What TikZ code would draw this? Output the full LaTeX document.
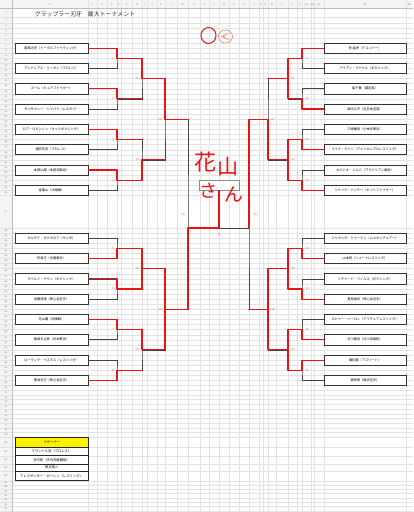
\documentclass[tikz,border=0pt]{standalone}
\usepackage{fontspec}
\setmainfont{Noto Sans CJK JP}
\newfontfamily\latf{Liberation Sans}
\definecolor{gridc}{HTML}{E2E3E3}
\definecolor{hdrc}{HTML}{F3F4F5}
\definecolor{redl}{HTML}{EE1111}
\definecolor{redt}{HTML}{FF5A5A}
\definecolor{pinkl}{HTML}{F08080}
\definecolor{brk}{HTML}{444444}
\tikzset{
 gridl/.style={draw=gridc,line width=0.35pt},
 rownum/.style={font=\latf\fontsize{2.3}{2.5}\selectfont,text=black!55,inner sep=0},
 collet/.style={font=\latf\fontsize{2.3}{2.5}\selectfont,text=black!55,inner sep=0},
 namebox/.style={draw=black!80,line width=0.6pt,fill=white,minimum height=10.16pt,inner sep=0,font=\fontsize{3.2}{3.6}\selectfont},
 lbox/.style={namebox,minimum width=73pt},
 rbox/.style={namebox,minimum width=82pt},
 bk/.style={draw=brk,line width=0.6pt},
 rd/.style={draw=redl,line width=1.1pt,line join=round,line cap=round},
 num/.style={font=\latf\fontsize{3}{3.2}\selectfont,text=redt,inner sep=0},
 hand/.style={text=redl,inner sep=0},
 resbox/.style={draw=black!85,line width=0.7pt,minimum width=73pt,inner sep=0,font=\fontsize{3.3}{3.6}\selectfont},
}
\begin{document}
\begin{tikzpicture}[x=1pt,y=-1pt]
\useasboundingbox (0,0) rectangle (413,512);
\fill[white] (0,0) rectangle (413,512);
% spreadsheet headers
\fill[hdrc] (0,0) rectangle (413,8);
\fill[hdrc] (0,0) rectangle (12,512);
% horizontal grid
\draw[gridl] (0,8) -- (413,8);
\draw[gridl] (0,17.6) -- (413,17.6);
\node[rownum] (rn1) at (6,12.8) {1};
\foreach \r in {2,...,36}{
  \pgfmathsetmacro{\ya}{17.6+(\r-2)*5.08}
  \draw[gridl] (0,\ya+5.08) -- (413,\ya+5.08);
  \node[rownum] (rn\r) at (6,\ya+2.54) {\r};
}
\node[rownum] (rn37) at (6,211.7) {37};
\draw[gridl] (0,228) -- (413,228);
\foreach \r in {38,...,68}{
  \pgfmathsetmacro{\ya}{228+(\r-38)*5.08}
  \draw[gridl] (0,\ya+5.08) -- (413,\ya+5.08);
  \node[rownum] (rn\r) at (6,\ya+2.54) {\r};
}
\foreach \r in {69,...,79}{
  \pgfmathsetmacro{\ya}{385.48+(\r-69)*4.7}
  \draw[gridl] (0,\ya+4.7) -- (413,\ya+4.7);
  \node[rownum] (rn\r) at (6,\ya+2.35) {\r};
}
\foreach \r/\ya/\yb in {80/437.2/447.3,81/447.3/455.7,82/455.7/464,83/464/471.3,84/471.3/480.7}{
  \draw[gridl] (0,\yb) -- (413,\yb);
  \node[rownum] (rn\r) at (6,{(\ya+\yb)/2}) {\r};
}
\foreach \r in {85,...,91}{
  \pgfmathsetmacro{\ya}{480.7+(\r-85)*4.3}
  \draw[gridl] (0,\ya+4.3) -- (413,\ya+4.3);
  \node[rownum] (rn\r) at (6,\ya+2.15) {\r};
}
% vertical grid
\foreach \x in {12,88,97,107,117,121,132,142,147,157,165,177,188,200,209,219,229,239,249,259,263,268,276,288,297,302,311,314,324,406}
  \draw[gridl] (\x,0) -- (\x,512);
\draw[draw=black!25,line width=0.4pt] (12,0) -- (12,512);
\draw[draw=black!25,line width=0.4pt] (0,8) -- (413,8);
\foreach \a/\b/\l in {12/88/B,88/97/C,97/107/D,107/117/E,117/121/F,121/132/G,132/142/H,142/147/I,147/157/J,157/165/K,165/177/L,177/188/M,188/200/N,200/209/O,209/219/P,219/229/Q,229/239/R,239/249/S,249/259/T,259/263/U,263/268/V,268/276/W,276/288/X,288/297/Y,297/302/Z,302/311/AA,311/314/AB,314/324/AC,324/406/AD,406/413/AE}
  \node[collet] (cl\l) at ({(\a+\b)/2},4.5) {\l};

% title
\node[font=\fontsize{5.9}{6.5}\selectfont,text=black!80,inner sep=0] (title) at (85,14) {グラップラー刃牙　最大トーナメント};

% left entries
\node[lbox] (L1) at (51.5,48.08) {範馬刃牙（トータルファイティング）};
\node[lbox] (L2) at (51.5,68.40) {アンドレアス・リーガン（プロレス）};
\node[lbox] (L3) at (51.5,88.72) {ズール（ピュアファイター）};
\node[lbox] (L4) at (51.5,109.04) {ザンダウニー・シャバイ（ムエタイ）};
\node[lbox] (L5) at (51.5,129.36) {ロブ・ロビンソン（キックボクシング）};
\node[lbox] (L6) at (51.5,149.68) {猪狩完至（プロレス）};
\node[lbox] (L7) at (51.5,170.00) {本部以蔵（本部流柔術）};
\node[lbox] (L8) at (51.5,190.32) {金竜山（大相撲）};
\node[lbox] (L9) at (51.5,238.16) {セルゲイ・タクタロフ（サンボ）};
\node[lbox] (L10) at (51.5,258.48) {烈海王（中国拳法）};
\node[lbox] (L11) at (51.5,278.80) {ラベルト・ゲラン（ボクシング）};
\node[lbox] (L12) at (51.5,299.12) {加藤清澄（神心会空手）};
\node[lbox] (L13) at (51.5,319.44) {花山薫（喧嘩師）};
\node[lbox] (L14) at (51.5,339.76) {稲城文之信（日本拳法）};
\node[lbox] (L15) at (51.5,360.08) {ローランド・イスタス（レスリング）};
\node[lbox] (L16) at (51.5,380.40) {愚地克巳（神心会空手）};
% right entries
\node[rbox] (R1) at (365,48.08) {李 猛虎（テコンドー）};
\node[rbox] (R2) at (365,68.40) {アイアン・マイケル（ボクシング）};
\node[rbox] (R3) at (365,88.72) {柴千春（暴走族）};
\node[rbox] (R4) at (365,109.04) {畑中公平（全日本空道）};
\node[rbox] (R5) at (365,129.36) {三崎健吾（少林寺拳法）};
\node[rbox] (R6) at (365,149.68) {マイク・クイン（アメリカンプロレスリング）};
\node[rbox] (R7) at (365,170.00) {セルジオ・シルバ（ブラジリアン柔術）};
\node[rbox] (R8) at (365,190.32) {ジャック・ハンマー（ピットファイター）};
\node[rbox] (R9) at (365,238.16) {ジャガッタ・シャーマン（ムエカッチュアー）};
\node[rbox] (R10) at (365,258.48) {山本稔（シュートレスリング）};
\node[rbox] (R11) at (365,278.80) {リチャード・フィルス（ボクシング）};
\node[rbox] (R12) at (365,299.12) {愚地独歩（神心会空手）};
\node[rbox] (R13) at (365,319.44) {ロジャー・ハーロン（アマチュアレスリング）};
\node[rbox] (R14) at (365,339.76) {渋川剛気（渋川流柔術）};
\node[rbox] (R15) at (365,360.08) {鎬紅葉（アスリート）};
\node[rbox] (R16) at (365,380.40) {鎬昂昇（鎬流空手）};

% champion cell
\node[draw=black!45,line width=0.8pt,fill=white,minimum width=40pt,minimum height=10pt,inner sep=0] (champ) at (219,185) {};

% junction coordinates
\coordinate (lm1) at (117,58.24);  \coordinate (lm2) at (117,98.88);
\coordinate (lm3) at (117,139.52); \coordinate (lm4) at (117,180.16);
\coordinate (lm5) at (117,248.32); \coordinate (lm6) at (117,288.96);
\coordinate (lm7) at (117,329.60); \coordinate (lm8) at (117,370.24);
\coordinate (lr17) at (142,78.56);  \coordinate (lr18) at (142,159.84);
\coordinate (lr19) at (142,268.64); \coordinate (lr20) at (142,349.92);
\coordinate (lq25) at (165,119.2);  \coordinate (lq26) at (165,309.28);
\coordinate (ls29) at (188,228);
\coordinate (fin) at (219,228);
\coordinate (rs30) at (249,228);
\coordinate (rq27) at (268,119.2);  \coordinate (rq28) at (268,309.28);
\coordinate (rr21) at (288,78.56);  \coordinate (rr22) at (288,159.84);
\coordinate (rr23) at (288,268.64); \coordinate (rr24) at (288,349.92);
\coordinate (rm9) at (302,58.24);   \coordinate (rm10) at (302,98.88);
\coordinate (rm11) at (302,139.52); \coordinate (rm12) at (302,180.16);
\coordinate (rm13) at (302,248.32); \coordinate (rm14) at (302,288.96);
\coordinate (rm15) at (302,329.60); \coordinate (rm16) at (302,370.24);

% black bracket
\draw[bk] (L1.east) -| (lm1) |- (L2.east);
\draw[bk] (L3.east) -| (lm2) |- (L4.east);
\draw[bk] (L5.east) -| (lm3) |- (L6.east);
\draw[bk] (L7.east) -| (lm4) |- (L8.east);
\draw[bk] (L9.east) -| (lm5) |- (L10.east);
\draw[bk] (L11.east) -| (lm6) |- (L12.east);
\draw[bk] (L13.east) -| (lm7) |- (L14.east);
\draw[bk] (L15.east) -| (lm8) |- (L16.east);
\draw[bk] (lm1) -| (lr17) |- (lm2);
\draw[bk] (lm3) -| (lr18) |- (lm4);
\draw[bk] (lm5) -| (lr19) |- (lm6);
\draw[bk] (lm7) -| (lr20) |- (lm8);
\draw[bk] (lr17) -| (lq25) |- (lr18);
\draw[bk] (lr19) -| (lq26) |- (lr20);
\draw[bk] (lq25) -| (ls29) |- (lq26);
\draw[bk] (R1.west) -| (rm9) |- (R2.west);
\draw[bk] (R3.west) -| (rm10) |- (R4.west);
\draw[bk] (R5.west) -| (rm11) |- (R6.west);
\draw[bk] (R7.west) -| (rm12) |- (R8.west);
\draw[bk] (R9.west) -| (rm13) |- (R10.west);
\draw[bk] (R11.west) -| (rm14) |- (R12.west);
\draw[bk] (R13.west) -| (rm15) |- (R14.west);
\draw[bk] (R15.west) -| (rm16) |- (R16.west);
\draw[bk] (rm9) -| (rr21) |- (rm10);
\draw[bk] (rm11) -| (rr22) |- (rm12);
\draw[bk] (rm13) -| (rr23) |- (rm14);
\draw[bk] (rm15) -| (rr24) |- (rm16);
\draw[bk] (rr21) -| (rq27) |- (rr22);
\draw[bk] (rr23) -| (rq28) |- (rr24);
\draw[bk] (rq27) -| (rs30) |- (rq28);
\draw[bk] (ls29) -- (rs30);
\draw[bk] (fin) -- (champ.south);

% red (hand drawn) winner lines
\draw[rd] (L1.east) -| (lm1) -| (lr17) -| (lq25) -- (lq25 -| ls29);
\draw[rd] (L3.east) -| (lm2) -- (lm2 -| lr17);
\draw[rd] (L5.east) -| (lm3) -- (lm3 -| lr18);
\draw[rd] (L7.east) -| (lm4) -| (lr18) -- (lr18 -| lq25);
\draw[rd] (L10.east) -| (lm5) -| (lr19) -| (lq26) -| (ls29) -| (champ.south);
\draw[rd] (L11.east) -| (lm6) -| (lr19);
\draw[rd] (L13.east) -| (lm7) -| (lr20) -| (lq26);
\draw[rd] (L16.east) -| (lm8) -- (lm8 -| lr20);
\draw[rd] (R1.west) -| (rm9) -| (rr21) -- (rr21 -| rq27);
\draw[rd] (R4.west) -| (rm10) -| (rr21);
\draw[rd] (R6.west) -| (rm11) -| (rr22) -| (rq27) -| (rs30);
\draw[rd] (R8.west) -| (rm12) -| (rr22);
\draw[rd] (R10.west) -| (rm13) -| (rr23) -| (rq28) -- (rq28 -| rs30);
\draw[rd] (R12.west) -| (rm14) -| (rr23);
\draw[rd] (R14.west) -| (rm15) -| (rr24) -| (rq28);
\draw[rd] (R15.west) -| (rm16) -| (rr24);

% match numbers
\node[num] (n1) at (113,58.24) {1};
\node[num] (n2) at (113,98.88) {2};
\node[num] (n3) at (113,139.52) {3};
\node[num] (n4) at (113,180.16) {4};
\node[num] (n5) at (113,248.32) {5};
\node[num] (n6) at (113,288.96) {6};
\node[num] (n7) at (113,329.60) {7};
\node[num] (n8) at (113,370.24) {8};
\node[num] (n17) at (137,78.56) {17};
\node[num] (n18) at (137,159.84) {18};
\node[num] (n19) at (137,268.64) {19};
\node[num] (n20) at (137,349.92) {20};
\node[num] (n25) at (160,119.2) {25};
\node[num] (n26) at (160,309.28) {26};
\node[num] (n29) at (183,214) {29};
\node[num] (n31) at (219,234) {31};
\node[num] (n30) at (255,214) {30};
\node[num] (n27) at (273,119.2) {27};
\node[num] (n28) at (273,309.28) {28};
\node[num] (n21) at (293,78.56) {21};
\node[num] (n22) at (293,159.84) {22};
\node[num] (n23) at (293,268.64) {23};
\node[num] (n24) at (293,349.92) {24};
\node[num] (n9) at (307,58.24) {9};
\node[num] (n10) at (307,98.88) {10};
\node[num] (n11) at (307,139.52) {11};
\node[num] (n12) at (307,180.16) {12};
\node[num] (n13) at (307,248.32) {13};
\node[num] (n14) at (307,288.96) {14};
\node[num] (n15) at (307,329.60) {15};
\node[num] (n16) at (307,370.24) {16};

% reserve list
\node[resbox,fill=yellow,minimum height=10.1pt] (res0) at (51.5,442.25) {リザーバー};
\node[resbox,fill=white,minimum height=8.4pt] (res1) at (51.5,451.5) {マウント斗羽（プロレス）};
\node[resbox,fill=white,minimum height=8.3pt] (res2) at (51.5,459.85) {天内悠（天内流格闘術）};
\node[resbox,fill=white,minimum height=7.3pt] (res3) at (51.5,467.65) {夜叉猿Jr};
\node[resbox,fill=white,minimum height=9.4pt] (res4) at (51.5,476) {アレクサンダー・ガーレン（レスリング）};

% handwritten marks
\node[hand,font=\fontsize{22}{22}\selectfont] (hw1) at (205,162) {花};
\node[hand,font=\fontsize{21}{21}\selectfont] (hw2) at (228,167) {山};
\node[hand,font=\fontsize{18}{18}\selectfont] (hw3) at (208,191) {さ};
\node[hand,font=\fontsize{19}{19}\selectfont] (hw4) at (234,194) {ん};
\draw[redl,line width=1pt] (208.5,35.5) ellipse [x radius=7.5,y radius=8];
\draw[pinkl,line width=0.6pt] (225.5,36.5) ellipse [x radius=7,y radius=6.5];
\draw[pinkl,line width=0.5pt] (229.5,33) -- (221.5,36.5) -- (229.5,40);
\draw[pinkl,line width=0.5pt] (226,34.5) -- (223.5,36.5) -- (226,38.5);
\end{tikzpicture}
\end{document}
